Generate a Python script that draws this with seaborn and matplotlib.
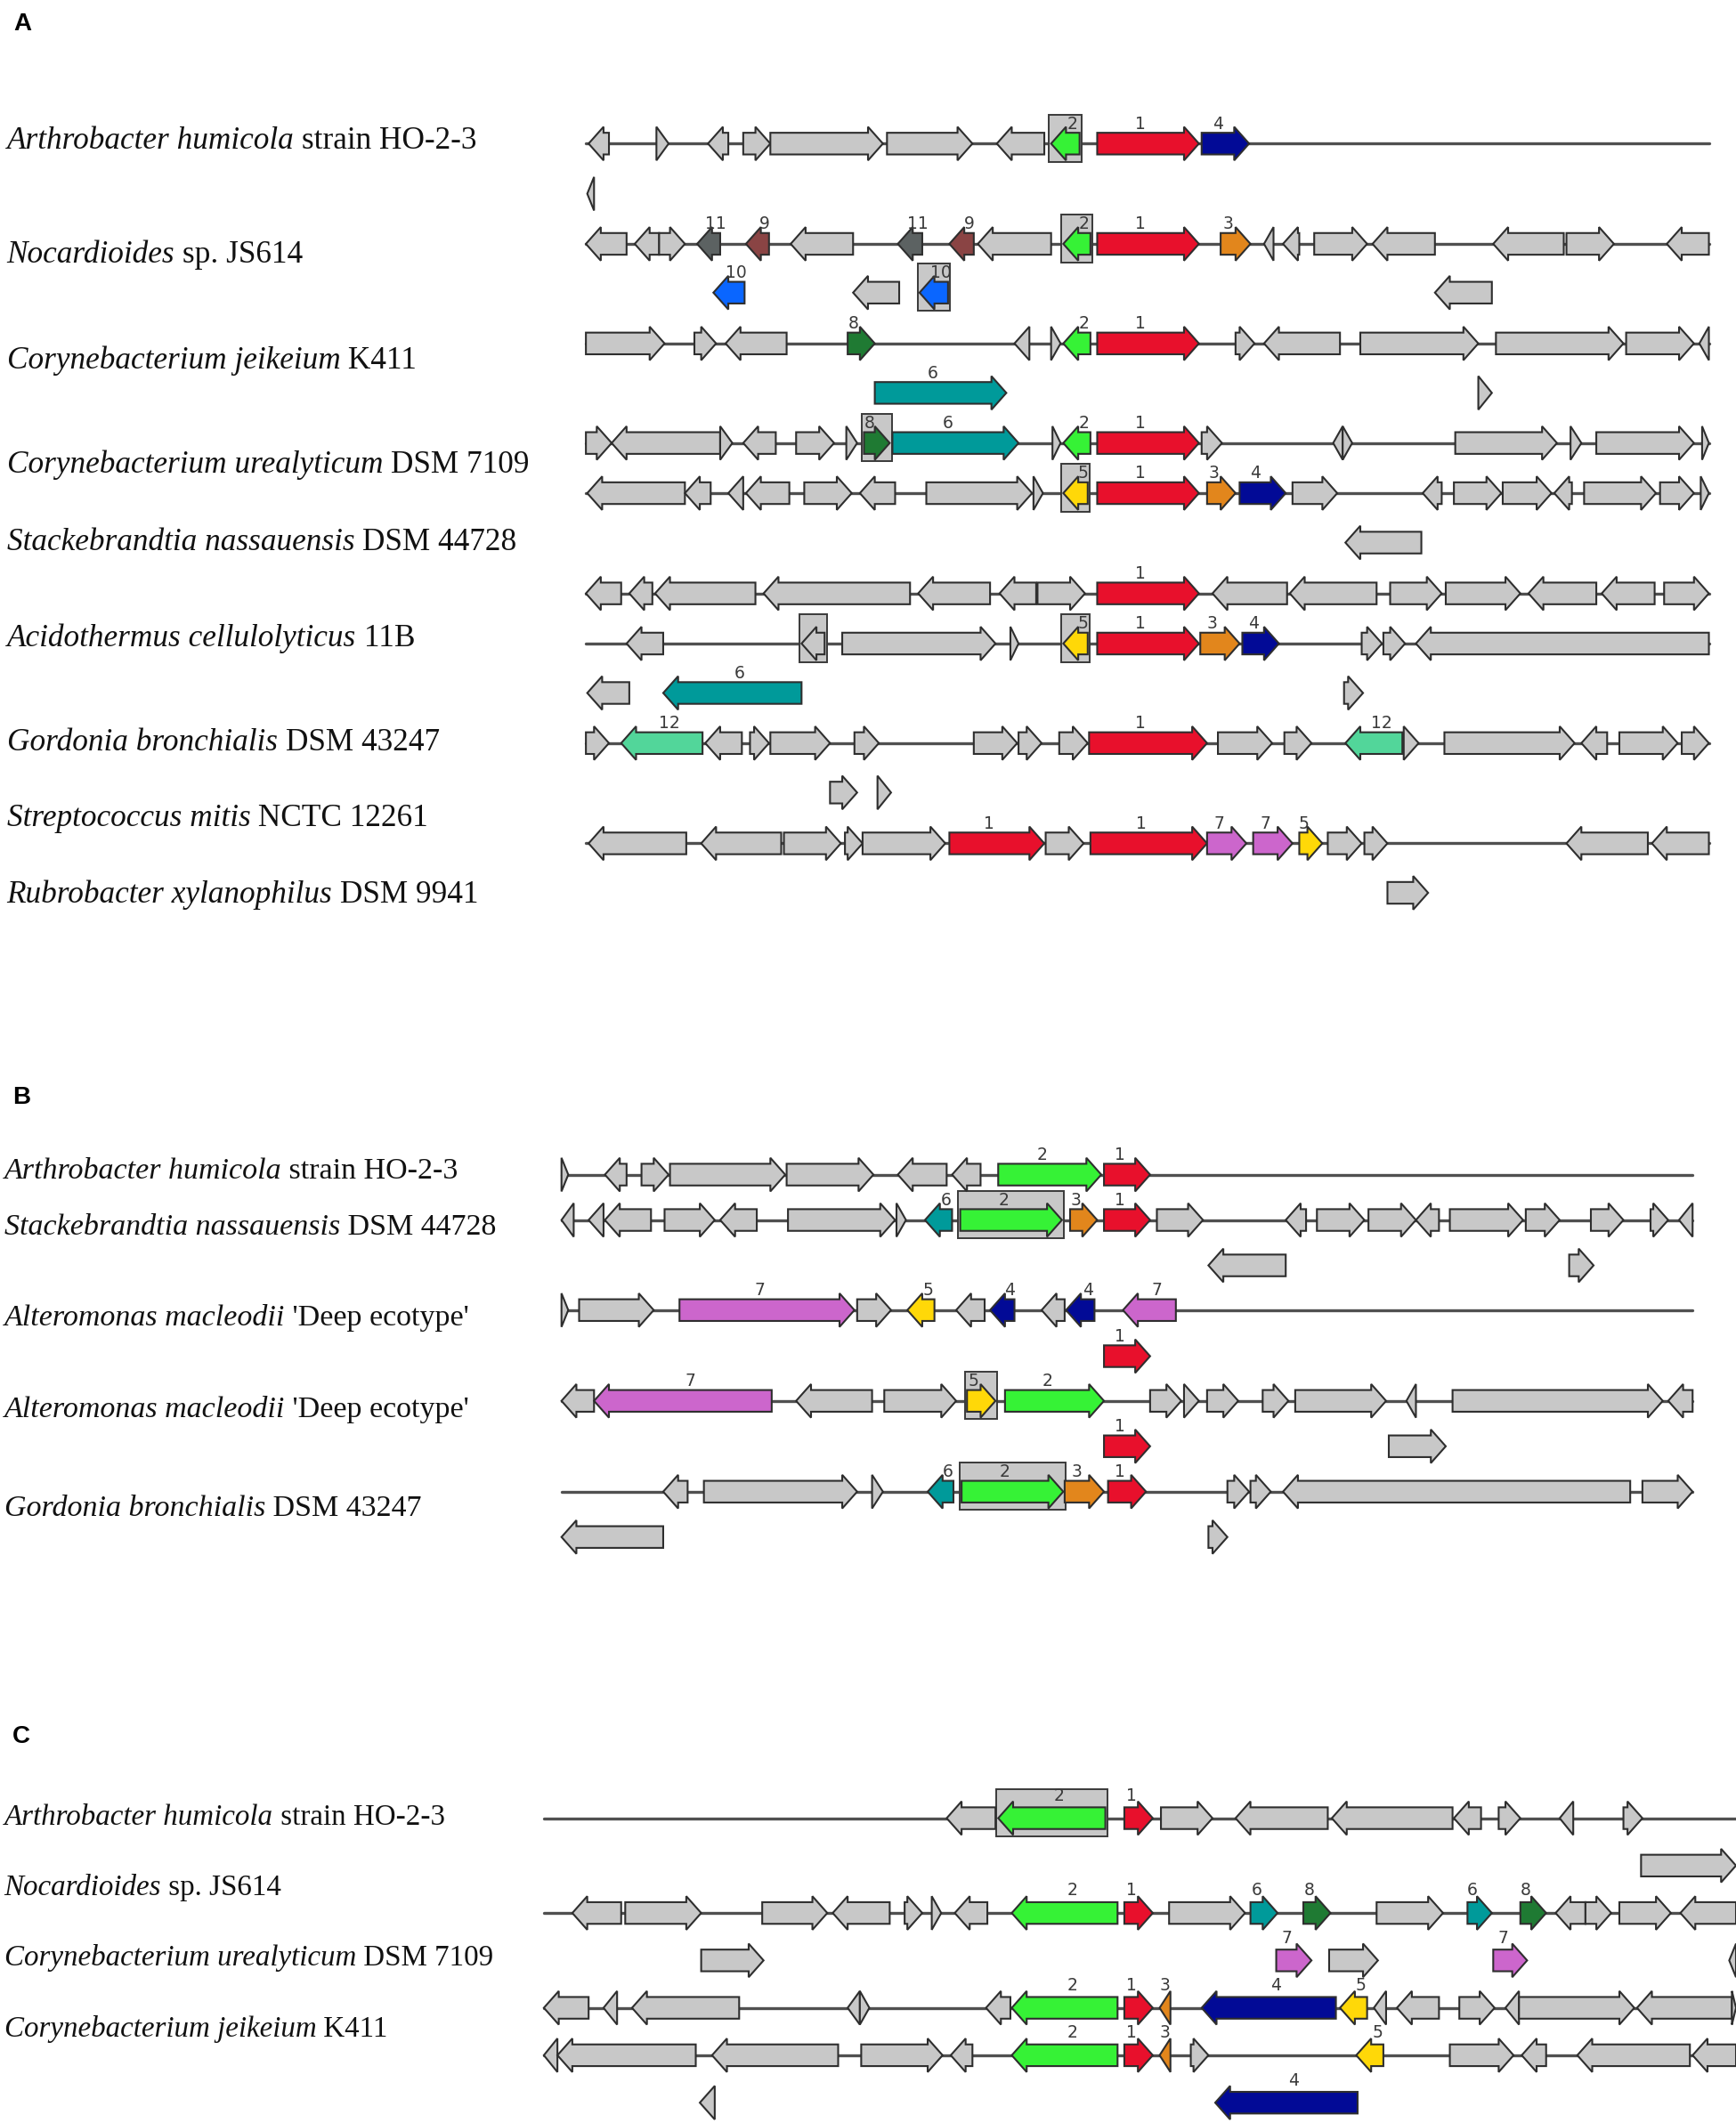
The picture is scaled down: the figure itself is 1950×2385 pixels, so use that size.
import matplotlib
matplotlib.use("Agg")
import matplotlib.pyplot as plt
from matplotlib.patches import Polygon, Rectangle
import seaborn as sns
import pandas as pd

sns.set_theme(style="white")
plt.rcParams["font.family"] = ["Liberation Serif", "DejaVu Serif"]

# ---------------- data: genes as (start, end, strand, homolog group; 0 = other) ----------------
A1 = [(434,449,-1,0),(484,493,1,0),(522,537,-1,0),(548,568,1,0),(568,651,1,0),(654,717,1,0),
      (735,770,-1,0),(775,796,-1,2),(809,884,1,1),(886,921,1,4)]
A1b = [(433,438,-1,0)]
A2 = [(432,462,-1,0),(468,486,-1,0),(486,505,1,0),(514,531,-1,11),(550,567,-1,9),(583,629,-1,0),
      (662,680,-1,11),(700,718,-1,9),(721,775,-1,0),(784,804,-1,2),(809,884,1,1),(900,922,1,3),
      (932,939,-1,0),(946,958,-1,0),(969,1008,1,0),(1012,1058,-1,0),(1101,1153,-1,0),
      (1155,1190,1,0),(1229,1260,-1,0)]
A2b = [(526,549,-1,10),(629,663,-1,0),(678,699,-1,10),(1058,1100,-1,0)]
A3 = [(432,490,1,0),(512,528,1,0),(535,580,-1,0),(625,645,1,8),(748,759,-1,0),(775,782,1,0),
      (784,804,-1,2),(809,884,1,1),(911,925,1,0),(932,988,-1,0),(1003,1090,1,0),(1103,1197,1,0),
      (1199,1249,1,0),(1253,1260,-1,0)]
A3b = [(645,742,1,6),(1090,1100,1,0)]
A4 = [(432,451,1,0),(451,531,-1,0),(531,540,1,0),(548,572,-1,0),(587,615,1,0),(624,632,1,0),
      (637,656,1,8),(658,751,1,6),(776,782,1,0),(784,804,-1,2),(809,884,1,1),(886,901,1,0),
      (983,990,-1,0),(990,997,1,0),(1073,1148,1,0),(1158,1166,1,0),(1177,1249,1,0),(1255,1260,1,0)]
A5 = [(433,505,-1,0),(505,524,-1,0),(537,548,-1,0),(550,582,-1,0),(593,628,1,0),(634,660,-1,0),
      (683,761,1,0),(762,769,1,0),(784,802,-1,5),(809,884,1,1),(890,911,1,3),(914,948,1,4),
      (953,986,1,0),(1049,1063,-1,0),(1072,1107,1,0),(1108,1144,1,0),(1146,1159,-1,0),
      (1168,1221,1,0),(1224,1249,1,0),(1254,1260,1,0)]
A5b = [(992,1048,-1,0)]
A6 = [(432,458,-1,0),(464,481,-1,0),(483,557,-1,0),(563,671,-1,0),(677,730,-1,0),(737,764,-1,0),
      (765,800,1,0),(809,884,1,1),(894,949,-1,0),(951,1015,-1,0),(1025,1063,1,0),(1066,1121,1,0),
      (1127,1177,-1,0),(1181,1220,-1,0),(1227,1260,1,0)]
A7 = [(462,489,-1,0),(591,608,-1,0),(621,734,1,0),(745,751,1,0),(784,802,-1,5),(809,884,1,1),
      (885,914,1,3),(916,943,1,4),(1004,1019,1,0),(1020,1036,1,0),(1044,1260,-1,0)]
A7b = [(433,464,-1,0),(489,591,-1,6),(991,1005,1,0)]
A8 = [(432,449,1,0),(458,518,-1,12),(520,547,-1,0),(553,567,1,0),(568,612,1,0),(630,648,1,0),
      (718,750,1,0),(751,768,1,0),(781,802,1,0),(803,890,1,1),(898,938,1,0),(947,967,1,0),
      (992,1034,-1,12),(1035,1046,1,0),(1065,1161,1,0),(1166,1185,-1,0),(1194,1237,1,0),
      (1240,1260,1,0)]
A8b = [(612,632,1,0),(647,657,1,0)]
A9 = [(434,506,-1,0),(517,576,-1,0),(578,620,1,0),(623,636,1,0),(636,697,1,0),(700,770,1,1),
      (771,799,1,0),(804,890,1,1),(890,919,1,7),(924,953,1,7),(958,975,1,5),(979,1004,1,0),
      (1006,1023,1,0),(1155,1215,-1,0),(1218,1260,-1,0)]
A9b = [(1023,1053,1,0)]

B1 = [(414,419,1,0),(446,462,-1,0),(473,493,1,0),(494,579,1,0),(580,644,1,0),(662,698,-1,0),
      (702,723,-1,0),(736,812,1,2),(814,848,1,1)]
B2 = [(414,423,-1,0),(434,445,-1,0),(446,480,-1,0),(490,527,1,0),(531,558,-1,0),(581,660,1,0),
      (661,668,1,0),(682,702,-1,6),(708,783,1,2),(789,809,1,3),(814,848,1,1),(853,887,1,0),
      (948,963,-1,0),(971,1006,1,0),(1009,1044,1,0),(1044,1061,-1,0),(1069,1123,1,0),
      (1125,1150,1,0),(1173,1197,1,0),(1217,1230,1,0),(1238,1248,-1,0)]
B2b = [(891,948,-1,0),(1157,1175,1,0)]
B3 = [(414,419,1,0),(427,482,1,0),(501,630,1,7),(632,657,1,0),(669,689,-1,5),(705,726,-1,0),
      (730,748,-1,4),(768,785,-1,0),(786,807,-1,4),(828,867,-1,7)]
B3b = [(814,848,1,1)]
B4 = [(414,438,-1,0),(438,569,-1,7),(587,643,-1,0),(652,705,1,0),(713,734,1,5),(741,814,1,2),
      (848,871,1,0),(873,884,1,0),(890,913,1,0),(931,950,1,0),(955,1022,1,0),(1037,1044,-1,0),
      (1071,1226,1,0),(1230,1248,-1,0)]
B4b = [(814,848,1,1),(1024,1066,1,0)]
B5 = [(489,507,-1,0),(519,632,1,0),(643,651,1,0),(684,703,-1,6),(709,784,1,2),(785,814,1,3),
      (817,845,1,1),(905,921,1,0),(922,937,1,0),(946,1202,-1,0),(1211,1248,1,0)]
B5b = [(414,489,-1,0),(891,905,1,0)]

C1 = [(698,734,-1,0),(736,815,-1,2),(829,850,1,1),(856,894,1,0),(911,979,-1,0),(982,1071,-1,0),
      (1072,1092,-1,0),(1105,1121,1,0),(1150,1160,-1,0),(1197,1211,1,0)]
C1b = [(1210,1280,1,0)]
C2 = [(422,458,-1,0),(461,517,1,0),(562,610,1,0),(614,656,-1,0),(667,680,1,0),(687,694,1,0),
      (704,728,-1,0),(746,824,-1,2),(829,850,1,1),(862,918,1,0),(922,942,1,6),(961,981,1,8),
      (1015,1064,1,0),(1082,1100,1,6),(1121,1140,1,8),(1147,1169,-1,0),(1169,1188,1,0),
      (1194,1232,1,0),(1239,1280,-1,0)]
C2b = [(517,563,1,0),(941,967,1,7),(980,1016,1,0),(1101,1126,1,7),(1275,1280,-1,0)]
C3 = [(401,434,-1,0),(445,455,-1,0),(466,545,-1,0),(625,634,-1,0),(634,641,1,0),(727,745,-1,0),
      (746,824,-1,2),(829,850,1,1),(855,863,-1,3),(886,985,-1,4),(988,1008,-1,5),(1013,1022,-1,0),
      (1030,1061,-1,0),(1076,1102,1,0),(1110,1120,-1,0),(1120,1205,1,0),(1207,1277,-1,0),
      (1277,1280,1,0)]
C4 = [(401,411,-1,0),(411,513,-1,0),(525,618,-1,0),(635,695,1,0),(701,717,-1,0),(746,824,-1,2),
      (829,850,1,1),(855,863,-1,3),(878,891,1,0),(1000,1020,-1,5),(1069,1116,1,0),(1122,1140,-1,0),
      (1163,1246,-1,0),(1248,1280,-1,0)]
C4b = [(516,527,-1,0),(896,1001,-1,4)]

# highlighted (boxed) genes: (track name, gene start)
BOXED = [("A1",775),("A2",784),("A2b",678),("A4",637),("A5",784),("A7",591),("A7",784),
         ("B2",708),("B4",713),("B5",709),("C1",736)]

NAMES_A = [("Arthrobacter humicola", " strain HO-2-3"), ("Nocardioides", " sp. JS614"),
           ("Corynebacterium jeikeium", " K411"), ("Corynebacterium urealyticum", " DSM 7109"),
           ("Stackebrandtia nassauensis", " DSM 44728"), ("Acidothermus cellulolyticus", " 11B"),
           ("Gordonia bronchialis", " DSM 43247"), ("Streptococcus mitis", " NCTC 12261"),
           ("Rubrobacter xylanophilus", " DSM 9941")]
NAMES_B = [("Arthrobacter humicola", " strain HO-2-3"), ("Stackebrandtia nassauensis", " DSM 44728"),
           ("Alteromonas macleodii", " 'Deep ecotype'"), ("Alteromonas macleodii", " 'Deep ecotype'"),
           ("Gordonia bronchialis", " DSM 43247")]
NAMES_C = [("Arthrobacter humicola", " strain HO-2-3"), ("Nocardioides", " sp. JS614"),
           ("Corynebacterium urealyticum", " DSM 7109"), ("Corynebacterium jeikeium", " K411")]

# ---------------- layout / style ----------------
GROUP_COLORS = {0: "#c8c8c8", 1: "#e8102c", 2: "#36f236", 3: "#e2861c", 4: "#020a96",
                5: "#ffd808", 6: "#009a9a", 7: "#cc66cc", 8: "#1f7a33", 9: "#8a4444",
                10: "#0a66ff", 11: "#5c6262", 12: "#52d69a"}

# (name, genes, y, backbone x-range or None)
TRACKS = [("A1", A1, 106, (432, 1260)), ("A1b", A1b, 143, None),
          ("A2", A2, 180, (432, 1260)), ("A2b", A2b, 216, None),
          ("A3", A3, 253.5, (432, 1260)), ("A3b", A3b, 290, None),
          ("A4", A4, 327, (432, 1260)), ("A5", A5, 364, (432, 1260)), ("A5b", A5b, 400.5, None),
          ("A6", A6, 438, (432, 1260)), ("A7", A7, 475, (432, 1260)), ("A7b", A7b, 511.5, None),
          ("A8", A8, 548.5, (432, 1260)), ("A8b", A8b, 585, None),
          ("A9", A9, 622.5, (432, 1260)), ("A9b", A9b, 659, None),
          ("B1", B1, 867, (414.5, 1248)), ("B2", B2, 900.5, (414.5, 1248)), ("B2b", B2b, 934, None),
          ("B3", B3, 967, (414.5, 1248)), ("B3b", B3b, 1001, None),
          ("B4", B4, 1034, (414.5, 1248)), ("B4b", B4b, 1067.5, None),
          ("B5", B5, 1101, (414.5, 1248)), ("B5b", B5b, 1134.5, None),
          ("C1", C1, 1342, (401, 1280)), ("C1b", C1b, 1377, None),
          ("C2", C2, 1412, (401, 1280)), ("C2b", C2b, 1447, None),
          ("C3", C3, 1482, (401, 1280)), ("C4", C4, 1517, (401, 1280)), ("C4b", C4b, 1552, None)]

LABEL_Y = {"A": [103, 187, 265, 342, 399, 470, 547, 603, 659],
           "B": [863, 904, 971, 1039, 1112],
           "C": [1340, 1392, 1444, 1496]}
LABEL_X = {"A": 5, "B": 3, "C": 3}
LABEL_FS = {"A": 25.4, "B": 24.5, "C": 23.8}
NUM_OFFSET = {"A": 14.5, "B": 14.5, "C": 16.5}
PANEL_POS = {"A": (10, 18), "B": (9, 810), "C": (9, 1282)}

BH, HH, HL = 8.0, 12.4, 11.0

W, H = 1280, 1567
fig = plt.figure(figsize=(19.5, 23.85), dpi=100)
ax = fig.add_axes([0, 0, 1, 1])

# backbones via seaborn
rows = []
for name, genes, y, rng in TRACKS:
    if rng is None:
        continue
    rows.append({"track": name, "x": rng[0], "y": y})
    rows.append({"track": name, "x": rng[1], "y": y})
bb = pd.DataFrame(rows)
sns.lineplot(data=bb, x="x", y="y", units="track", estimator=None, sort=False,
             color="#505050", lw=2.4, ax=ax, legend=False, zorder=1)
ax.set_xlim(0, W)
ax.set_ylim(H, 0)
ax.axis("off")

boxed = set(BOXED)


def arrow_poly(s, e, strand, y):
    hl = min(HL, e - s)
    if strand > 0:
        b = e - hl
        return [(s, y - BH), (b, y - BH), (b, y - HH), (e, y), (b, y + HH), (b, y + BH), (s, y + BH)], (s + b) / 2 if b > s else (s + e) / 2
    b = s + hl
    return [(e, y - BH), (b, y - BH), (b, y - HH), (s, y), (b, y + HH), (b, y + BH), (e, y + BH)], (b + e) / 2 if e > b else (s + e) / 2


for name, genes, y, rng in TRACKS:
    off = NUM_OFFSET[name[0]]
    for (s, e, strand, g) in genes:
        if (name, s) in boxed:
            ax.add_patch(Rectangle((s - 1.5, y - 21.5), e - s + 3, 35, facecolor="#c8c8c8",
                                   edgecolor="#3a3a3a", lw=1.4, zorder=2))
        pts, xc = arrow_poly(s, e, strand, y)
        ax.add_patch(Polygon(pts, closed=True, facecolor=GROUP_COLORS[g], edgecolor="#2e2e2e",
                             lw=1.5, joinstyle="miter", zorder=3))
        if g > 0:
            ax.text(xc, y - off, str(g), ha="center", va="center", fontsize=13.5,
                    family=["DejaVu Sans"], color="#3a3a3a", zorder=4)

# species labels: italic genus/species + roman strain
fig.canvas.draw()
renderer = fig.canvas.get_renderer()
inv = ax.transData.inverted()
for panel, names in (("A", NAMES_A), ("B", NAMES_B), ("C", NAMES_C)):
    for (ital, rom), yc in zip(names, LABEL_Y[panel]):
        yb = yc + 7
        t = ax.text(LABEL_X[panel], yb, ital, fontsize=LABEL_FS[panel], style="italic",
                    ha="left", va="baseline", color="#111111")
        bbox = t.get_window_extent(renderer)
        xr = inv.transform((bbox.x1, bbox.y0))[0]
        ax.text(xr, yb, rom, fontsize=LABEL_FS[panel], ha="left", va="baseline", color="#111111")

for p, (x, y) in PANEL_POS.items():
    ax.text(x, y, p, fontsize=20, fontweight="bold", family=["Liberation Sans", "DejaVu Sans"],
            ha="left", va="center", color="black")

fig.savefig("out.png", dpi=100, facecolor="white")
